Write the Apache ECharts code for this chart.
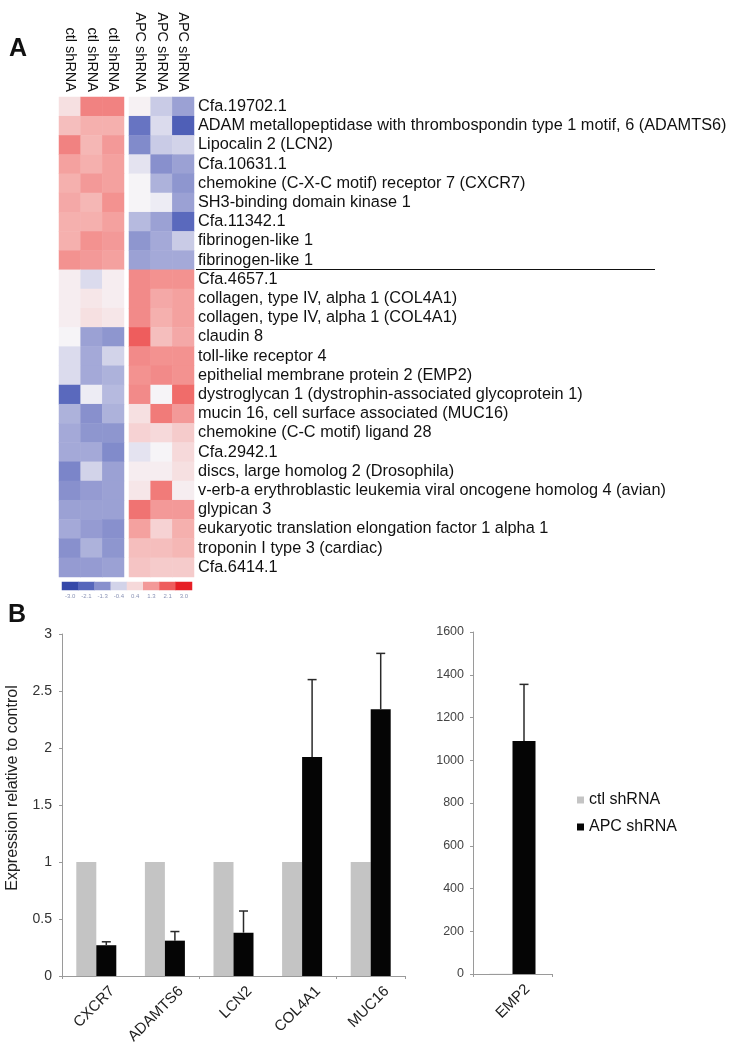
<!DOCTYPE html>
<html><head><meta charset="utf-8">
<script src="https://cdn.jsdelivr.net/npm/echarts@6/dist/echarts.min.js"></script>
<style>html,body{margin:0;padding:0;background:#fff}#c{width:736px;height:1050px}</style>
</head><body><div id="c"></div>
<script>
const ctlSamples = ['ctl shRNA','ctl shRNA ','ctl shRNA  '];
const apcSamples = ['APC shRNA','APC shRNA ','APC shRNA  '];
const genes = [
 'Cfa.19702.1',
 'ADAM metallopeptidase with thrombospondin type 1 motif, 6 (ADAMTS6)',
 'Lipocalin 2 (LCN2)',
 'Cfa.10631.1',
 'chemokine (C-X-C motif) receptor 7 (CXCR7)',
 'SH3-binding domain kinase 1',
 'Cfa.11342.1',
 'fibrinogen-like 1',
 'fibrinogen-like 1 ',
 'Cfa.4657.1',
 'collagen, type IV, alpha 1 (COL4A1)',
 'collagen, type IV, alpha 1 (COL4A1) ',
 'claudin 8',
 'toll-like receptor 4',
 'epithelial membrane protein 2 (EMP2)',
 'dystroglycan 1 (dystrophin-associated glycoprotein 1)',
 'mucin 16, cell surface associated (MUC16)',
 'chemokine (C-C motif) ligand 28',
 'Cfa.2942.1',
 'discs, large homolog 2 (Drosophila)',
 'v-erb-a erythroblastic leukemia viral oncogene homolog 4 (avian)',
 'glypican 3',
 'eukaryotic translation elongation factor 1 alpha 1',
 'troponin I type 3 (cardiac)',
 'Cfa.6414.1'
];
const ctlValues = [
 [0.3,1.6,1.6],[0.8,1.0,1.0],[1.6,0.9,1.3],[1.2,1.0,1.2],[1.0,1.3,1.2],
 [1.1,0.9,1.4],[1.0,1.0,1.2],[1.0,1.4,1.3],[1.4,1.3,1.2],
 [0.1,-0.3,0.1],[0.1,0.2,0.1],[0.1,0.3,0.2],[0.0,-1.0,-1.2],[-0.3,-0.9,-0.4],
 [-0.3,-0.9,-0.8],[-2.0,-0.1,-0.7],[-0.8,-1.3,-0.8],[-0.9,-1.2,-1.2],[-0.9,-0.9,-1.4],
 [-1.5,-0.4,-1.0],[-1.3,-1.1,-1.0],[-1.0,-1.0,-1.0],[-0.9,-1.1,-1.3],[-1.3,-0.8,-1.2],
 [-1.1,-1.1,-1.0]
];
const apcValues = [
 [0.05,-0.5,-1.0],[-1.8,-0.3,-2.3],[-1.4,-0.5,-0.4],[-0.2,-1.3,-1.0],[0.0,-0.8,-1.2],
 [0.0,-0.1,-1.0],[-0.7,-1.0,-2.0],[-1.2,-0.9,-0.5],[-1.0,-0.9,-0.9],
 [1.5,1.4,1.4],[1.5,1.1,1.2],[1.5,1.0,1.2],[2.1,0.8,1.1],[1.5,1.4,1.4],
 [1.4,1.5,1.4],[1.5,0.0,1.9],[0.3,1.7,1.3],[0.5,0.4,0.6],[-0.2,0.0,0.4],
 [0.1,0.1,0.3],[0.2,1.7,0.1],[1.8,1.3,1.3],[1.2,0.5,1.0],[0.8,0.8,0.9],
 [0.7,0.6,0.6]
];
const scaleLabels = ['-3.0','-2.1','-1.3','-0.4','0.4','1.3','2.1','3.0'];
const scaleValues = [-3.0,-2.1,-1.3,-0.4,0.4,1.3,2.1,3.0];

const qpcrGenes = ['CXCR7','ADAMTS6','LCN2','COL4A1','MUC16'];
const ctlQ = [1,1,1,1,1];
const apcQ = [0.27,0.31,0.38,1.92,2.34];
const apcQErr = [0.03,0.08,0.19,0.68,0.49];
const empGenes = ['EMP2'];
const ctlEmp = [1];
const apcEmp = [1090];
const apcEmpErr = [265];
const seriesNames = ['ctl shRNA','APC shRNA'];

const FONT = '"Liberation Sans", Arial, Helvetica, sans-serif';

function cells(rows){
  const out=[];
  rows.forEach((r,y)=>r.forEach((v,x)=>out.push([x,y,v])));
  return out;
}
function errBar(barW){
  return function(params, api){
    const i=api.value(0), v=api.value(1), e=api.value(2);
    const b=api.coord([i,v]), t=api.coord([i,v+e]);
    const x=b[0]+barW/2;
    const st={stroke:'#2a2a2a',lineWidth:1.5};
    return {type:'group',children:[
      {type:'line',shape:{x1:x,y1:b[1],x2:x,y2:t[1]},style:st},
      {type:'line',shape:{x1:x-4.5,y1:t[1],x2:x+4.5,y2:t[1]},style:st}
    ]};
  };
}

const chart = echarts.init(document.getElementById('c'), null, {renderer:'canvas'});
const hideAxis = {axisLine:{show:false},axisTick:{show:false},splitLine:{show:false}};
const colLabel = {rotate:90,fontSize:14.5,color:'#111',margin:5,fontFamily:FONT,interval:0,
  formatter:v=>v.trim()};
const barXLabel = {rotate:45,fontSize:15,color:'#222',margin:13,interval:0,fontFamily:FONT};

chart.setOption({
  animation:false,
  backgroundColor:'#fff',
  title:[
    {text:'A',left:9,top:37,padding:0,textStyle:{fontSize:25,fontWeight:'bold',color:'#111',fontFamily:FONT}},
    {text:'B',left:8,top:603,padding:0,textStyle:{fontSize:25,fontWeight:'bold',color:'#111',fontFamily:FONT}}
  ],
  visualMap:{type:'continuous',show:false,min:-3,max:3,seriesIndex:[0,1,2],
    inRange:{color:['#3548a9','#5a69bd','#9ba1d4','#f6f4f7','#f5b0ae','#ef6463','#e61f25']}},
  legend:{data:seriesNames,orient:'vertical',left:572,top:787,itemWidth:7,itemHeight:7,itemGap:11,
    icon:'rect',textStyle:{fontSize:16,color:'#111',fontFamily:FONT}},
  grid:[
    {left:59,top:97,width:65,height:480},
    {left:129,top:97,width:65,height:480},
    {left:62,top:582,width:130,height:8},
    {left:62,top:634,width:343,height:342},
    {left:473,top:632,width:79,height:342},
    {left:78,top:634,width:343,height:342},
    {left:488,top:632,width:79,height:342}
  ],
  xAxis:[
    {gridIndex:0,type:'category',position:'top',data:ctlSamples,axisLabel:colLabel,...hideAxis},
    {gridIndex:1,type:'category',position:'top',data:apcSamples,axisLabel:colLabel,...hideAxis},
    {gridIndex:2,type:'category',position:'bottom',data:scaleLabels,...hideAxis,
      axisLabel:{fontSize:6,color:'#8a93b5',margin:3,interval:0,fontFamily:FONT}},
    {gridIndex:3,type:'category',data:qpcrGenes,
      axisLine:{lineStyle:{color:'#9a9a9a',width:1}},
      axisTick:{show:true,alignWithLabel:false,length:3,lineStyle:{color:'#9a9a9a'}},
      axisLabel:{show:false}},
    {gridIndex:4,type:'category',data:empGenes,
      axisLine:{lineStyle:{color:'#9a9a9a',width:1}},
      axisTick:{show:true,length:3,lineStyle:{color:'#9a9a9a'}},
      axisLabel:{show:false}},
    {gridIndex:5,type:'category',data:qpcrGenes,...hideAxis,axisLabel:barXLabel},
    {gridIndex:6,type:'category',data:empGenes,...hideAxis,axisLabel:barXLabel}
  ],
  yAxis:[
    {gridIndex:0,type:'category',data:genes,inverse:true,show:false},
    {gridIndex:1,type:'category',data:genes,inverse:true,position:'right',...hideAxis,
      axisLabel:{align:'left',margin:4,fontSize:16.3,color:'#111',interval:0,fontFamily:FONT,formatter:v=>v.trim()}},
    {gridIndex:2,type:'category',data:['scale'],show:false},
    {gridIndex:3,type:'value',min:0,max:3,interval:0.5,
      name:'Expression relative to control',nameLocation:'middle',nameRotate:90,nameGap:41,
      nameTextStyle:{fontSize:16,color:'#222',fontFamily:FONT,padding:[0,0,0,34]},
      axisLine:{show:true,lineStyle:{color:'#9a9a9a',width:1}},
      axisTick:{show:true,length:3,lineStyle:{color:'#9a9a9a'}},
      splitLine:{show:false},
      axisLabel:{fontSize:14,color:'#333',margin:10,fontFamily:FONT}},
    {gridIndex:4,type:'value',min:0,max:1600,interval:200,
      axisLine:{show:true,lineStyle:{color:'#9a9a9a',width:1}},
      axisTick:{show:true,length:3,lineStyle:{color:'#9a9a9a'}},
      splitLine:{show:false},
      axisLabel:{fontSize:12.5,color:'#444',margin:9,fontFamily:FONT,formatter:v=>String(v)}},
    {gridIndex:5,type:'value',show:false},
    {gridIndex:6,type:'value',show:false}
  ],
  series:[
    {type:'heatmap',xAxisIndex:0,yAxisIndex:0,data:cells(ctlValues),itemStyle:{borderWidth:0}},
    {type:'heatmap',xAxisIndex:1,yAxisIndex:1,data:cells(apcValues),itemStyle:{borderWidth:0}},
    {type:'heatmap',xAxisIndex:2,yAxisIndex:2,data:scaleValues.map((v,i)=>[i,0,v]),itemStyle:{borderWidth:0}},
    {name:seriesNames[0],type:'bar',xAxisIndex:3,yAxisIndex:3,data:ctlQ,barWidth:20,barGap:'0%',
      itemStyle:{color:'#c4c4c4'}},
    {name:seriesNames[1],type:'bar',xAxisIndex:3,yAxisIndex:3,data:apcQ,barWidth:20,barGap:'0%',
      itemStyle:{color:'#050505'}},
    {type:'custom',xAxisIndex:3,yAxisIndex:3,renderItem:errBar(20),
      data:apcQ.map((v,i)=>[i,v,apcQErr[i]]),z:5},
    {name:seriesNames[0],type:'bar',xAxisIndex:4,yAxisIndex:4,data:ctlEmp,barWidth:23,barGap:'0%',
      itemStyle:{color:'#c4c4c4'}},
    {name:seriesNames[1],type:'bar',xAxisIndex:4,yAxisIndex:4,data:apcEmp,barWidth:23,barGap:'0%',
      itemStyle:{color:'#050505'}},
    {type:'custom',xAxisIndex:4,yAxisIndex:4,renderItem:errBar(23),
      data:apcEmp.map((v,i)=>[i,v,apcEmpErr[i]]),z:5}
  ],
  graphic:[
    {type:'line',shape:{x1:196,y1:269.5,x2:655,y2:269.5},style:{stroke:'#111',lineWidth:1.2}}
  ]
});
</script></body></html>
